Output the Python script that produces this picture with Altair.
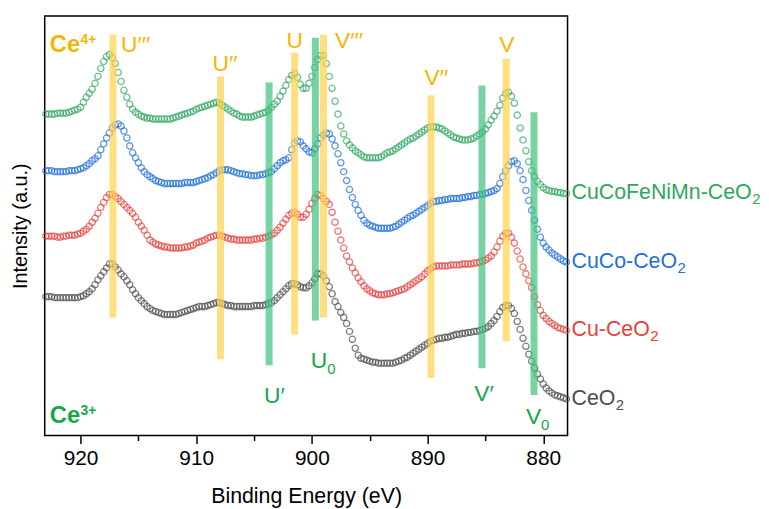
import altair as alt
import pandas as pd

# Binding energy sampling (eV), 4 samples per eV
ENERGY = [
    923.0, 922.75, 922.5, 922.25, 922.0, 921.75, 921.5, 921.25, 921.0, 920.75, 920.5, 920.25,
    920.0, 919.75, 919.5, 919.25, 919.0, 918.75, 918.5, 918.25, 918.0, 917.75, 917.5, 917.25,
    917.0, 916.75, 916.5, 916.25, 916.0, 915.75, 915.5, 915.25, 915.0, 914.75, 914.5, 914.25,
    914.0, 913.75, 913.5, 913.25, 913.0, 912.75, 912.5, 912.25, 912.0, 911.75, 911.5, 911.25,
    911.0, 910.75, 910.5, 910.25, 910.0, 909.75, 909.5, 909.25, 909.0, 908.75, 908.5, 908.25,
    908.0, 907.75, 907.5, 907.25, 907.0, 906.75, 906.5, 906.25, 906.0, 905.75, 905.5, 905.25,
    905.0, 904.75, 904.5, 904.25, 904.0, 903.75, 903.5, 903.25, 903.0, 902.75, 902.5, 902.25,
    902.0, 901.75, 901.5, 901.25, 901.0, 900.75, 900.5, 900.25, 900.0, 899.75, 899.5, 899.25,
    899.0, 898.75, 898.5, 898.25, 898.0, 897.75, 897.5, 897.25, 897.0, 896.75, 896.5, 896.25,
    896.0, 895.75, 895.5, 895.25, 895.0, 894.75, 894.5, 894.25, 894.0, 893.75, 893.5, 893.25,
    893.0, 892.75, 892.5, 892.25, 892.0, 891.75, 891.5, 891.25, 891.0, 890.75, 890.5, 890.25,
    890.0, 889.75, 889.5, 889.25, 889.0, 888.75, 888.5, 888.25, 888.0, 887.75, 887.5, 887.25,
    887.0, 886.75, 886.5, 886.25, 886.0, 885.75, 885.5, 885.25, 885.0, 884.75, 884.5, 884.25,
    884.0, 883.75, 883.5, 883.25, 883.0, 882.75, 882.5, 882.25, 882.0, 881.75, 881.5, 881.25,
    881.0, 880.75, 880.5, 880.25, 880.0, 879.75, 879.5, 879.25, 879.0, 878.75, 878.5, 878.25,
    878.0]

# Stacked intensities (a.u.), same order as ENERGY
CUCOFENIMN = [
    324, 324, 324, 324, 325, 325, 325, 325, 326, 327, 328, 329,
    331, 336, 341, 345, 349, 355, 362, 370, 377, 382, 384, 381,
    375, 366, 357, 348, 341, 334, 329, 326, 324, 322, 321, 320,
    320, 319, 319, 319, 319, 319, 319, 319, 320, 321, 322, 323,
    324, 325, 326, 327, 329, 330, 331, 332, 333, 334, 335, 336,
    335, 333, 331, 329, 327, 325, 324, 322, 321, 321, 321, 321,
    322, 323, 324, 325, 326, 328, 331, 334, 337, 342, 347, 353,
    359, 363, 365, 361, 354, 350, 350, 355, 362, 371, 379, 383,
    383, 375, 362, 350, 337, 324, 312, 304, 297, 293, 290, 287,
    285, 283, 281, 280, 280, 280, 280, 280, 281, 283, 285, 286,
    287, 289, 291, 293, 295, 297, 299, 300, 302, 304, 306, 308,
    310, 311, 311, 311, 310, 309, 307, 305, 303, 301, 300, 299,
    298, 298, 298, 299, 300, 302, 304, 306, 309, 313, 318, 322,
    327, 333, 340, 345, 346, 342, 335, 323, 310, 298, 287, 276,
    267, 261, 256, 253, 250, 248, 247, 246, 246, 245, 245, 244,
    244]
CUCO = [
    267, 267, 267, 266, 266, 266, 266, 266, 267, 267, 267, 268,
    269, 270, 272, 274, 277, 279, 282, 288, 294, 300, 305, 310,
    313, 314, 312, 307, 300, 292, 285, 280, 275, 270, 266, 263,
    261, 259, 257, 256, 255, 254, 254, 254, 254, 254, 254, 254,
    255, 255, 255, 255, 256, 257, 258, 259, 260, 262, 263, 265,
    267, 268, 268, 268, 267, 266, 265, 264, 264, 263, 263, 262,
    262, 262, 263, 263, 264, 265, 266, 269, 272, 275, 277, 278,
    280, 288, 295, 297, 296, 292, 289, 286, 285, 289, 294, 300,
    303, 305, 304, 299, 292, 284, 275, 266, 257, 248, 240, 233,
    227, 222, 217, 214, 212, 211, 210, 209, 209, 209, 209, 209,
    210, 211, 213, 215, 217, 219, 221, 222, 224, 226, 228, 230,
    232, 234, 236, 236, 237, 237, 238, 238, 239, 239, 239, 239,
    240, 240, 241, 241, 242, 242, 243, 243, 244, 245, 246, 247,
    249, 254, 261, 267, 272, 276, 277, 274, 267, 258, 247, 237,
    227, 217, 208, 200, 194, 190, 187, 184, 182, 180, 178, 176,
    175]
CU = [
    201, 201, 201, 201, 200, 200, 201, 201, 202, 202, 202, 203,
    204, 206, 208, 211, 215, 219, 224, 230, 235, 240, 243, 243,
    241, 239, 236, 233, 230, 227, 224, 220, 215, 211, 207, 202,
    197, 195, 193, 192, 191, 190, 190, 189, 189, 189, 189, 189,
    190, 190, 191, 192, 194, 195, 196, 197, 199, 200, 201, 202,
    202, 201, 200, 199, 198, 198, 197, 197, 197, 197, 197, 197,
    198, 198, 199, 199, 200, 201, 202, 204, 207, 210, 214, 218,
    222, 224, 225, 223, 220, 220, 223, 228, 234, 239, 243, 242,
    239, 236, 233, 225, 215, 206, 197, 189, 181, 175, 169, 164,
    159, 155, 151, 148, 146, 144, 143, 142, 142, 142, 143, 143,
    144, 145, 146, 147, 148, 150, 152, 154, 156, 158, 160, 163,
    166, 168, 170, 171, 171, 171, 171, 171, 172, 172, 172, 172,
    173, 173, 173, 173, 174, 174, 175, 176, 177, 179, 181, 185,
    190, 196, 201, 204, 204, 200, 194, 186, 178, 170, 163, 156,
    149, 140, 132, 126, 121, 118, 115, 113, 111, 109, 108, 107,
    106]
CEO2 = [
    140, 140, 140, 139, 139, 139, 139, 139, 139, 139, 139, 139,
    140, 141, 143, 145, 148, 152, 157, 161, 165, 169, 173, 173,
    170, 167, 163, 160, 156, 152, 147, 143, 139, 136, 133, 130,
    128, 126, 125, 124, 123, 122, 122, 122, 122, 122, 123, 124,
    125, 126, 127, 128, 129, 130, 130, 130, 131, 132, 133, 134,
    134, 133, 132, 131, 131, 130, 130, 130, 130, 130, 130, 130,
    131, 131, 131, 131, 132, 133, 134, 136, 139, 142, 145, 148,
    151, 153, 153, 152, 150, 149, 149, 151, 154, 158, 163, 163,
    161, 156, 150, 143, 135, 130, 124, 119, 113, 105, 97, 88,
    81, 78, 77, 76, 75, 74, 74, 73, 73, 73, 73, 73,
    73, 74, 75, 76, 78, 79, 81, 83, 85, 87, 89, 91,
    93, 95, 96, 97, 98, 98, 99, 99, 100, 101, 102, 102,
    103, 103, 104, 104, 105, 105, 106, 107, 108, 110, 113, 116,
    120, 125, 129, 131, 131, 128, 123, 115, 107, 98, 90, 82,
    75, 68, 62, 57, 52, 48, 45, 43, 41, 40, 39, 38,
    37]

SERIES_NAMES = ["CuCoFeNiMn-CeO2", "CuCo-CeO2", "Cu-CeO2", "CeO2"]
SERIES_BASE = ["CuCoFeNiMn-CeO", "CuCo-CeO", "Cu-CeO", "CeO"]
SERIES_VALUES = [CUCOFENIMN, CUCO, CU, CEO2]
SERIES_COLORS = ["#30a660", "#1f6fd8", "#e8403c", "#4d4d4d"]

# Peak reference bands: position (eV), bottom, top (a.u.)
BAND_POS = [917.2, 907.9, 901.5, 899.0, 889.7, 883.2, 903.7, 899.7, 885.3, 880.8]
BAND_LOW = [119, 77, 102, 119, 58, 95, 71, 116, 68, 41]
BAND_HIGH = [404, 362, 386, 404, 343, 380, 356, 401, 353, 326]
BAND_KIND = ["Ce4", "Ce4", "Ce4", "Ce4", "Ce4", "Ce4", "Ce3", "Ce3", "Ce3", "Ce3"]

# Peak annotations
ANN_TEXT = ["U\u2032\u2032\u2032", "U\u2032\u2032", "U", "V\u2032\u2032\u2032", "V\u2032\u2032", "V",
            "U\u2032", "U", "V\u2032", "V"]
ANN_SUB = ["", "", "", "", "", "", "", "0", "", "0"]
ANN_X = [916.5, 908.6, 902.2, 898.0, 890.26, 883.8, 904.14, 900.1, 885.97, 881.5]
ANN_Y = [394, 374, 398, 398, 360, 394, 40, 75, 42, 19]
ANN_KIND = BAND_KIND

CE_TEXT = ["Ce", "Ce"]
CE_SUP = ["4+", "3+"]
CE_X = [922.66, 922.66]
CE_Y = [394, 20]
CE_KIND = ["Ce4", "Ce3"]

GOLD_TEXT = "#f2b705"
GREEN_TEXT = "#14a84a"
KIND_TEXT = {"Ce4": GOLD_TEXT, "Ce3": GREEN_TEXT}

FONT = "Liberation Sans"
W, H = 527, 423
X_DOMAIN = [923.1, 877.9]

# Arial / Liberation Sans advance widths (per em) for text placement
ADV = {"C": 0.722, "u": 0.556, "o": 0.556, "F": 0.611, "e": 0.556, "N": 0.722, "i": 0.222,
       "M": 0.833, "n": 0.556, "-": 0.333, "O": 0.778, "U": 0.722, "V": 0.667}


def text_width(s, size):
    return sum(ADV.get(ch, 0.556) for ch in s) * size


rows = []
for name, vals in zip(SERIES_NAMES, SERIES_VALUES):
    for e, v in zip(ENERGY, vals):
        rows.append({"energy": e, "intensity": v, "series": name})
spectra = pd.DataFrame(rows)

bands = pd.DataFrame({"pos": BAND_POS, "low": BAND_LOW, "high": BAND_HIGH, "kind": BAND_KIND})
ann = pd.DataFrame({"text": ANN_TEXT, "x": ANN_X, "y": ANN_Y, "kind": ANN_KIND})

xscale = alt.Scale(domain=X_DOMAIN, nice=False, zero=False)
yscale = alt.Scale(domain=[0, H], nice=False, zero=False)
color_scale = alt.Scale(domain=SERIES_NAMES, range=SERIES_COLORS)
kind_color = alt.Scale(domain=["Ce4", "Ce3"], range=["#ffd24a", "#3fc07c"])
kind_text = alt.Scale(domain=["Ce4", "Ce3"], range=[GOLD_TEXT, GREEN_TEXT])

xaxis = alt.Axis(
    title="Binding Energy (eV)",
    values=[920, 915, 910, 905, 900, 895, 890, 885, 880],
    labelExpr="datum.value % 10 === 0 ? datum.label : ''",
    tickSize={"condition": {"test": "datum.value % 10 === 0", "value": 8}, "value": 5},
    tickColor="black", tickWidth=1.5, domain=False, grid=False,
    labelFontSize=21, labelColor="black", labelPadding=4,
    titleFontSize=21.5, titleFontWeight="normal", titleColor="black", titlePadding=17,
)
yaxis = alt.Axis(title="Intensity (a.u.)", labels=False, ticks=False, domain=False, grid=False,
                 titleFontSize=20, titleFontWeight="normal", titleColor="black", titlePadding=14)

points = alt.Chart(spectra).mark_point(filled=False, shape="circle", size=40, strokeWidth=1.3).encode(
    x=alt.X("energy:Q", scale=xscale, axis=xaxis),
    y=alt.Y("intensity:Q", scale=yscale, axis=yaxis),
    color=alt.Color("series:N", scale=color_scale, legend=None),
)

band_rules = alt.Chart(bands).mark_rule(strokeWidth=7, opacity=0.7, strokeCap="butt").encode(
    x="pos:Q", y="low:Q", y2="high:Q",
    color=alt.Color("kind:N", scale=kind_color, legend=None),
)

ann_labels = alt.Chart(ann).mark_text(align="left", baseline="middle", fontSize=23).encode(
    x="x:Q", y="y:Q", text="text:N",
    color=alt.Color("kind:N", scale=kind_text, legend=None),
)

layers = [points, band_rules, ann_labels]

# subscripts of U0 / V0
for t, s, x, y, k in zip(ANN_TEXT, ANN_SUB, ANN_X, ANN_Y, ANN_KIND):
    if s:
        d = pd.DataFrame({"t": [s], "x": [x], "y": [y]})
        layers.append(alt.Chart(d).mark_text(
            align="left", baseline="middle", fontSize=15, color=KIND_TEXT[k],
            dx=text_width(t, 23), dy=8,
        ).encode(x=alt.X("x:Q", scale=xscale), y=alt.Y("y:Q", scale=yscale), text="t:N"))

# Ce4+ / Ce3+ with superscript
for t, s, x, y, k in zip(CE_TEXT, CE_SUP, CE_X, CE_Y, CE_KIND):
    d = pd.DataFrame({"t": [t], "s": [s], "x": [x], "y": [y]})
    base = alt.Chart(d).encode(x=alt.X("x:Q", scale=xscale), y=alt.Y("y:Q", scale=yscale))
    layers.append(base.mark_text(align="left", baseline="middle", fontSize=24, fontWeight="bold",
                                 color=KIND_TEXT[k]).encode(text="t:N"))
    layers.append(base.mark_text(align="left", baseline="middle", fontSize=14, fontWeight="bold",
                                 color=KIND_TEXT[k], dx=31, dy=-5).encode(text="s:N"))

# series labels at the right end of each curve, with subscript 2
for name, base_txt, vals, col in zip(SERIES_NAMES, SERIES_BASE, SERIES_VALUES, SERIES_COLORS):
    d = pd.DataFrame({"t": [base_txt], "s": ["2"], "y": [vals[-1]]})
    base = alt.Chart(d).encode(x=alt.value(W), y=alt.Y("y:Q", scale=yscale))
    layers.append(base.mark_text(align="left", baseline="middle", fontSize=21.5, color=col, dx=4)
                  .encode(text="t:N"))
    layers.append(base.mark_text(align="left", baseline="middle", fontSize=15, color=col,
                                 dx=4 + text_width(base_txt, 21.5) + 0.5, dy=6).encode(text="s:N"))

chart = alt.layer(*layers).resolve_scale(
    color="independent"
).properties(
    width=W, height=H,
    padding={"left": 3, "top": 6, "right": 0, "bottom": 0},
).configure(
    font=FONT,
).configure_view(
    stroke="black", strokeWidth=1.5,
)

chart.save("out.html", embed_options={"renderer": "svg", "actions": False})
